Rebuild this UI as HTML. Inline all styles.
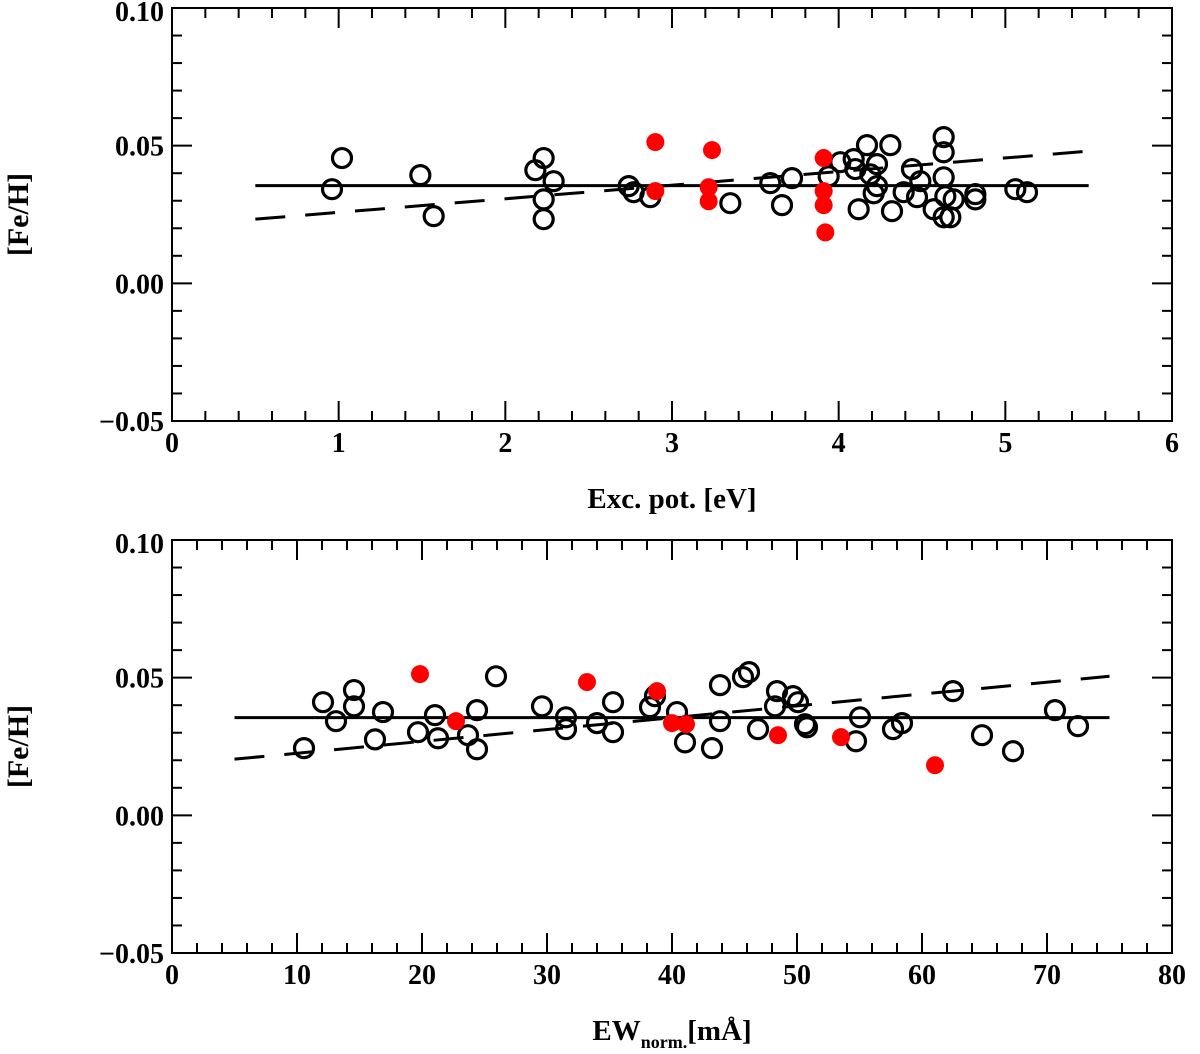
<!DOCTYPE html>
<html><head><meta charset="utf-8"><style>
body{margin:0;background:#fff}
svg{display:block}
text{font-family:"Liberation Serif",serif;font-weight:bold;fill:#000}
</style></head><body>
<svg id="chart" width="1200" height="1054" xmlns="http://www.w3.org/2000/svg"></svg>
<script>
const topOpenX=[0.96,1.02,1.49,1.57,2.18,2.23,2.29,2.23,2.23,2.74,2.77,2.87,3.35,3.59,3.66,3.72,3.94,4.01,4.09,4.10,4.17,4.23,4.19,4.23,4.21,4.12,4.31,4.44,4.32,4.39,4.49,4.47,4.63,4.63,4.63,4.57,4.64,4.69,4.63,4.67,4.82,4.82,5.06,5.13];
const topOpenY=[0.0342,0.0455,0.0393,0.0244,0.0411,0.0455,0.0371,0.0305,0.0233,0.0353,0.0331,0.0313,0.0291,0.0364,0.0284,0.0382,0.0389,0.044,0.0451,0.0415,0.0502,0.0433,0.0396,0.0353,0.0327,0.0269,0.0502,0.0415,0.0262,0.0331,0.0371,0.0313,0.0531,0.0476,0.0385,0.0269,0.0316,0.0305,0.024,0.024,0.0324,0.0305,0.0342,0.0331];
const topRedX=[2.90,2.90,3.24,3.22,3.22,3.91,3.91,3.91,3.92];
const topRedY=[0.0513,0.0335,0.0484,0.0349,0.0298,0.0455,0.0335,0.0284,0.0185];
const topMean=[0.5,5.5,0.0355];
const topFit=[0.5,0.0233,5.5,0.048];
const botOpenX=[10.56,12.08,13.12,14.56,14.56,16.24,16.88,19.68,21.04,21.28,23.68,24.4,24.4,25.92,29.6,31.52,31.52,34.0,35.28,35.28,38.24,38.64,40.4,41.04,43.2,43.84,43.84,45.68,46.16,46.88,48.4,48.24,49.68,50.08,50.64,50.8,55.04,54.72,57.68,58.4,62.48,64.8,67.28,70.64,72.48];
const botOpenY=[0.0244,0.0411,0.0342,0.0455,0.0396,0.0276,0.0375,0.0302,0.0364,0.028,0.0291,0.0382,0.024,0.0505,0.0396,0.0356,0.0313,0.0335,0.0411,0.0302,0.0393,0.0433,0.0375,0.0265,0.0244,0.0473,0.0342,0.0502,0.052,0.0313,0.0451,0.0396,0.0433,0.0411,0.0331,0.032,0.0356,0.0269,0.0313,0.0335,0.0451,0.0291,0.0233,0.0382,0.0324];
const botRedX=[19.84,22.72,33.2,38.8,40.0,41.12,48.48,53.52,61.04];
const botRedY=[0.0513,0.0342,0.0484,0.0451,0.0335,0.0331,0.0291,0.0284,0.0182];
const botMean=[5,75,0.0355];
const botFit=[5,0.0204,75,0.0505];
const topXTicks=["0","1","2","3","4","5","6"];
const botXTicks=["0","10","20","30","40","50","60","70","80"];
const yTicks=["\u22120.05","0.00","0.05","0.10"];

const NS="http://www.w3.org/2000/svg";
const svg=document.getElementById('chart');
function mk(tag,attrs,parent){const e=document.createElementNS(NS,tag);for(const k in attrs)e.setAttribute(k,attrs[k]);(parent||svg).appendChild(e);return e;}

function panel(name,top,bottom,xmax,xMajorStep,xTicks,openX,openY,redX,redY,mean,fit){
  const L=172,R=1172;
  const g=mk('g',{});
  
  
  const sx=v=>L+(v/xmax)*(R-L);
  const sy=v=>bottom-(v+0.05)/0.15*(bottom-top);
  const fr=mk('rect',{x:L,y:top,width:R-L,height:bottom-top,fill:'none',stroke:'#000','stroke-width':2},g);
  
  
  const nMinor=(xmax/xMajorStep)*5;
  for(let i=0;i<=nMinor;i++){
    const v=i*xMajorStep/5, x=sx(v), major=i%5===0, len=major?20:10;
    mk('line',{x1:x,y1:bottom,x2:x,y2:bottom-len,stroke:'#000','stroke-width':2},g);
    mk('line',{x1:x,y1:top,x2:x,y2:top+len,stroke:'#000','stroke-width':2},g);
  }
  xTicks.forEach((t,i)=>{const tx=mk('text',{x:sx(i*xMajorStep),y:bottom+31,'text-anchor':'middle','font-size':28},g);tx.textContent=t;
    });
  for(let i=0;i<=15;i++){
    const v=-0.05+i*0.01, y=sy(v), major=i%5===0, len=major?20:10;
    mk('line',{x1:L,y1:y,x2:L+len,y2:y,stroke:'#000','stroke-width':2},g);
    mk('line',{x1:R,y1:y,x2:R-len,y2:y,stroke:'#000','stroke-width':2},g);
  }
  yTicks.forEach((t,i)=>{const v=-0.05+i*0.05;const ty=mk('text',{x:L-8,y:sy(v)+10+(i===3?3:0),'text-anchor':'end','font-size':28},g);ty.textContent=t;
    });
  const ml=mk('line',{x1:sx(mean[0]),y1:sy(mean[2]),x2:sx(mean[1]),y2:sy(mean[2]),stroke:'#000','stroke-width':3},g);
  
  const fl=mk('line',{x1:sx(fit[0]),y1:sy(fit[1]),x2:sx(fit[2]),y2:sy(fit[3]),stroke:'#000','stroke-width':3,'stroke-dasharray':'30,20'},g);
  
  openX.forEach((v,i)=>{const c=mk('circle',{cx:sx(v),cy:sy(openY[i]),r:9.5,fill:'none',stroke:'#000','stroke-width':3.2},g);
    });
  redX.forEach((v,i)=>{const c=mk('circle',{cx:sx(v),cy:sy(redY[i]),r:9,fill:'#f00'},g);
    });
  const yl=mk('text',{x:0,y:0,'text-anchor':'middle','font-size':30,transform:`translate(28,${(top+bottom)/2}) rotate(-90)`},g);
  yl.textContent='[Fe/H]';
  
  return g;
}
panel('top-panel',8,421,6,1,topXTicks,topOpenX,topOpenY,topRedX,topRedY,topMean,topFit);
panel('bottom-panel',540,953,80,10,botXTicks,botOpenX,botOpenY,botRedX,botRedY,botMean,botFit);
const t1=mk('text',{x:672,y:508,'text-anchor':'middle','font-size':29});
t1.textContent='Exc. pot. [eV]';


const t2=mk('text',{x:672,y:1040,'text-anchor':'middle','font-size':29});
t2.innerHTML='EW<tspan font-size="18" dy="8">norm.</tspan><tspan dy="-8">[mÅ]</tspan>';


</script>
</body></html>
